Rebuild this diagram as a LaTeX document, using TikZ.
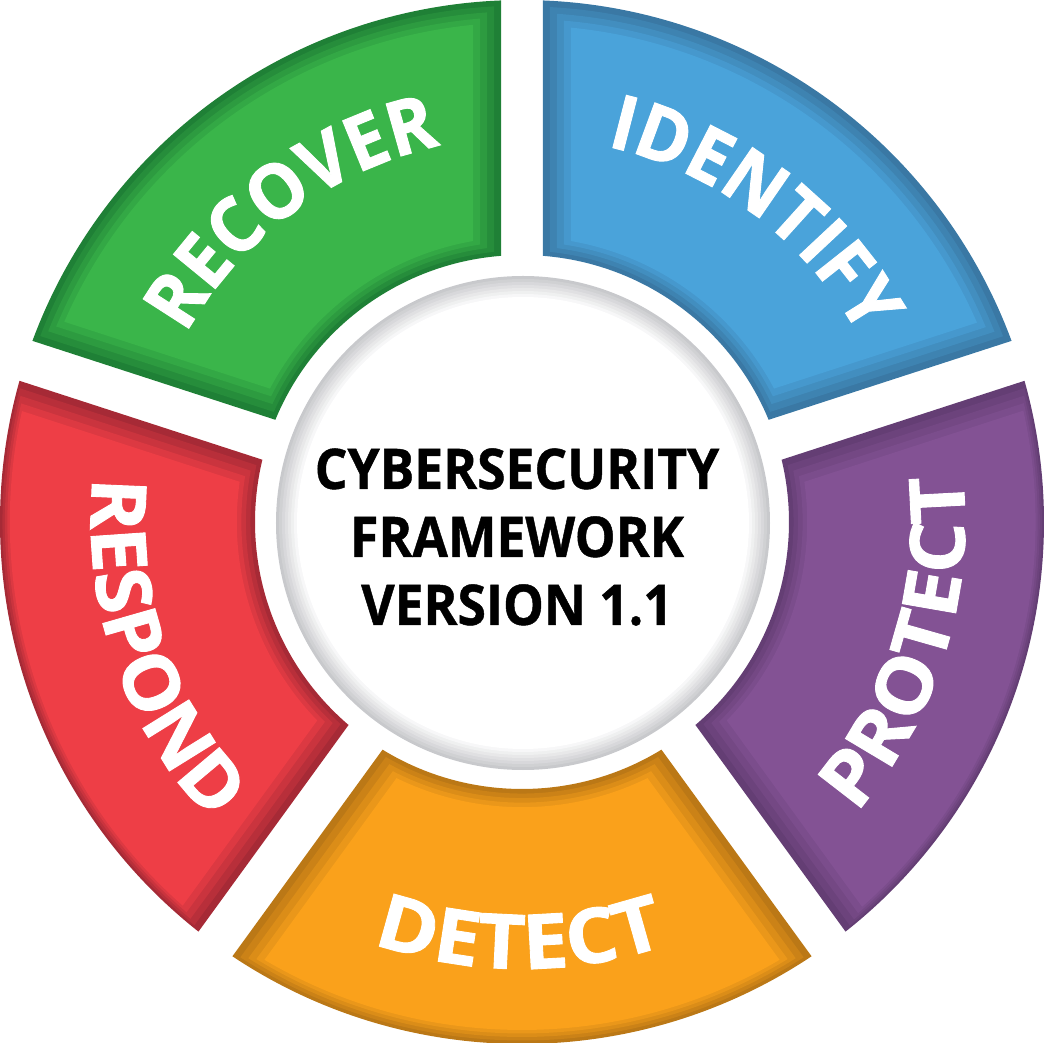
\documentclass[tikz,border=0pt]{standalone}
\usepackage{xcolor}
\usepackage{fontspec}
\usepackage{tikz}
\usetikzlibrary{decorations.text}
\setmainfont{Open Sans}
\newfontfamily\narrowfamily{Open Sans}[FakeStretch = 0.95, FakeBold = 1.2]
\newfontfamily\widefamily{Open Sans}[FakeStretch = 1.08, FakeBold = 1.2]
\newfontfamily\midfamily{Open Sans}[FakeStretch = 1.04, FakeBold = 1.2]
\newfontfamily\titlefamily{Open Sans}[FakeStretch = 0.92, FakeBold = 0.8]
\definecolor{identifyblue}{HTML}{4AA3DA}
\definecolor{identifydark}{HTML}{3A78A4}
\definecolor{protectpurple}{HTML}{835294}
\definecolor{protectdark}{HTML}{643E74}
\definecolor{detectorange}{HTML}{FAA11B}
\definecolor{detectdark}{HTML}{BB7816}
\definecolor{respondred}{HTML}{EE3E46}
\definecolor{responddark}{HTML}{A62A36}
\definecolor{recovergreen}{HTML}{3AB54A}
\definecolor{recoverdark}{HTML}{1F8036}
\definecolor{ringgray}{HTML}{C8C9CC}
\newcommand{\topfont}{\narrowfamily\fontsize{76}{80}\selectfont\bfseries\color{white}}
\newcommand{\lowfont}{\widefamily\fontsize{76}{80}\selectfont\bfseries\color{white}}
\newcommand{\midfont}{\midfamily\fontsize{76}{80}\selectfont\bfseries\color{white}}
\newcommand{\titlefont}{\titlefamily\fontsize{56}{68}\selectfont\bfseries}
\newcommand{\sectorband}[5]{% mid angle, inset, colour, bevel colour, outer factor
  \pgfmathsetmacro{\Ro}{522 - #5 * #2}
  \pgfmathsetmacro{\Ri}{267 + 0.65 * #2}
  \pgfmathsetmacro{\gapw}{21 + #2}
  \pgfmathsetmacro{\Ao}{asin(\gapw / \Ro)}
  \pgfmathsetmacro{\Ai}{asin(\gapw / \Ri)}
  \pgfmathsetmacro{\mixv}{100 * #2 / 28}
  \fill [#3!\mixv!#4] ({#1 + 36 - \Ao}:\Ro) arc [start angle = #1 + 36 - \Ao, end angle = #1 - 36 + \Ao, radius = \Ro]
    -- ({#1 - 36 + \Ai}:\Ri) arc [start angle = #1 - 36 + \Ai, end angle = #1 + 36 - \Ai, radius = \Ri] -- cycle;
}
\newcommand{\sector}[4]{%
  \foreach \inset in {0, 7, 14, 21, 28} {\sectorband{#1}{\inset}{#2}{#3}{#4}}
}
\tikzstyle{ringtext} = [decorate, decoration = {text along path, text align = center, text = {#1}}]
\begin{document}
\begin{tikzpicture}[x = 1pt, y = 1pt]
\useasboundingbox (-522, -521) rectangle (522, 522);
\sector{54}{identifyblue}{identifydark}{0.9}
\sector{-18}{protectpurple}{protectdark}{0.3}
\sector{-90}{detectorange}{detectdark}{0.5}
\sector{198}{respondred}{responddark}{0.35}
\sector{126}{recovergreen}{recoverdark}{0.8}
\foreach \inset in {0, 3, ..., 21} {
  \pgfmathsetmacro{\mixv}{100 * \inset / 21}
  \fill [white!\mixv!ringgray] (1, -1) circle [radius = 247 - \inset];
}
\node [align = center, inner sep = 0pt, font = \titlefont] (title) at (-5, -15) {CYBERSECURITY\\FRAMEWORK\\VERSION 1.1};
\path [ringtext = {|\topfont|IDENTIFY}] (93:385) arc [start angle = 93, end angle = 13, radius = 385];
\path [ringtext = {|\topfont|RECOVER}] (166.5:385) arc [start angle = 166.5, end angle = 86.5, radius = 385];
\path [ringtext = {|\lowfont|PROTECT}] (-57.5:443) arc [start angle = -57.5, end angle = 22.5, radius = 443];
\path [ringtext = {|\lowfont|DETECT}] (-130.3:447) arc [start angle = -130.3, end angle = -50.3, radius = 447];
\path [ringtext = {|\midfont|RESPOND}] (159:431) arc [start angle = 159, end angle = 239, radius = 431];
\end{tikzpicture}
\end{document}
